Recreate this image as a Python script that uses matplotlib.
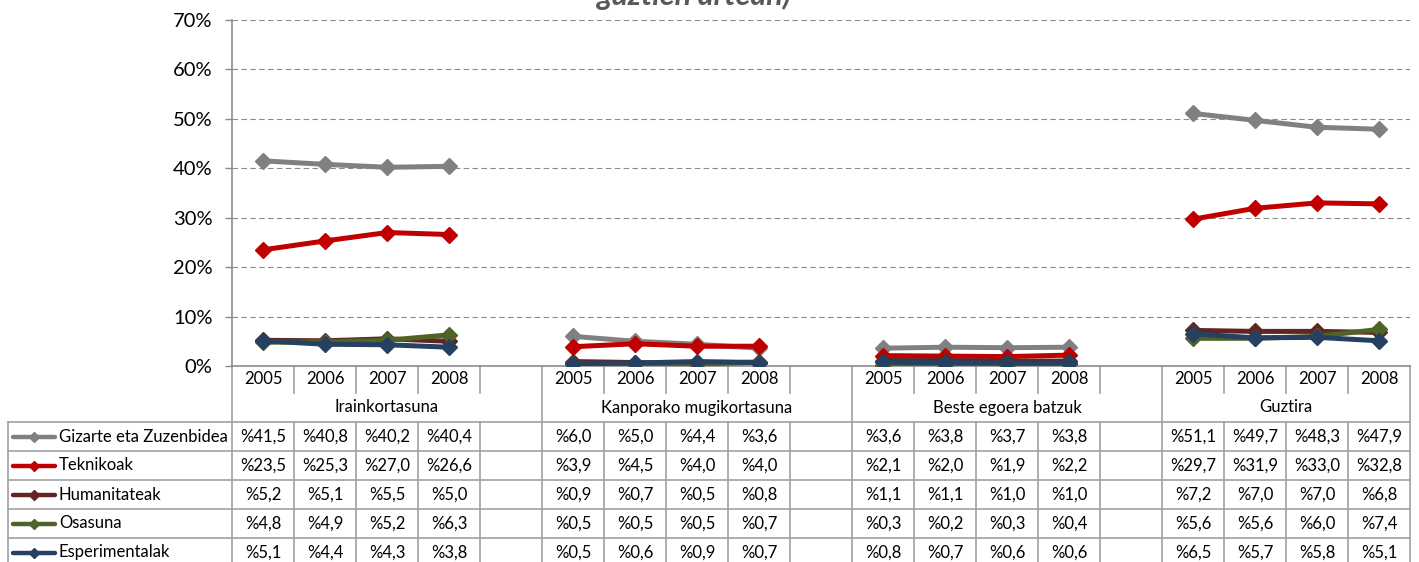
import numpy as np
import matplotlib
matplotlib.use("Agg")
import matplotlib.pyplot as plt
from matplotlib.transforms import blended_transform_factory

plt.rcParams['font.family'] = ['Lato', 'DejaVu Sans']

groups = ['Irainkortasuna', 'Kanporako mugikortasuna', 'Beste egoera batzuk', 'Guztira']
years = ['2005', '2006', '2007', '2008']

series_names = ['Gizarte eta Zuzenbidea', 'Teknikoak', 'Humanitateak', 'Osasuna', 'Esperimentalak']
gizarte = [41.5, 40.8, 40.2, 40.4, 6.0, 5.0, 4.4, 3.6, 3.6, 3.8, 3.7, 3.8, 51.1, 49.7, 48.3, 47.9]
teknikoak = [23.5, 25.3, 27.0, 26.6, 3.9, 4.5, 4.0, 4.0, 2.1, 2.0, 1.9, 2.2, 29.7, 31.9, 33.0, 32.8]
humanitateak = [5.2, 5.1, 5.5, 5.0, 0.9, 0.7, 0.5, 0.8, 1.1, 1.1, 1.0, 1.0, 7.2, 7.0, 7.0, 6.8]
osasuna = [4.8, 4.9, 5.2, 6.3, 0.5, 0.5, 0.5, 0.7, 0.3, 0.2, 0.3, 0.4, 5.6, 5.6, 6.0, 7.4]
esperimentalak = [5.1, 4.4, 4.3, 3.8, 0.5, 0.6, 0.9, 0.7, 0.8, 0.7, 0.6, 0.6, 6.5, 5.7, 5.8, 5.1]
colors = ['#808080', '#C00000', '#632523', '#4F6228', '#254061']

all_series = [gizarte, teknikoak, humanitateak, osasuna, esperimentalak]

# 4 years per group + one empty slot between groups
n_slots = len(groups) * (len(years) + 1) - 1
slot_of = [g * (len(years) + 1) + j for g in range(len(groups)) for j in range(len(years))]

W, H = 1419, 562
fig = plt.figure(figsize=(W / 100, H / 100), dpi=100)

# pixel based layout
px_left, px_right, px_top, px_bottom = 232, 1410, 20, 366
ax = fig.add_axes([px_left / W, 1 - px_bottom / H, (px_right - px_left) / W, (px_bottom - px_top) / H])

# overlay for table drawing (y in pixels, x from chart scale)
tab = fig.add_axes([0, 0, 1, 1], zorder=-1)
tab.set_xlim(0, W)
tab.set_ylim(H, 0)
tab.axis('off')

grid_c = '#8C8C8C'
line_c = '#A0A0A0'
fs = 12

for s, c in zip(all_series, colors):
    y = np.full(n_slots, np.nan)
    for k, v in enumerate(s):
        y[slot_of[k]] = v / 100
    ax.plot(np.arange(n_slots), y, color=c, lw=3.6, marker='D', ms=8.5, solid_joinstyle='round', zorder=3)

ax.set_xlim(-0.5, n_slots - 0.5)
ax.set_ylim(0, 0.7)
ax.set_yticks(np.arange(0, 0.71, 0.1))
ax.set_yticklabels([f'{int(round(t * 100))}%' for t in np.arange(0, 0.71, 0.1)], fontsize=14.5)
ax.set_xticks([])
ax.tick_params(axis='y', length=5, color=grid_c, width=1, pad=9)
ax.yaxis.grid(True, color=grid_c, linestyle=(0, (5, 3)), lw=0.8)
ax.set_axisbelow(True)
for sp in ['top', 'right']:
    ax.spines[sp].set_visible(False)
ax.spines['left'].set_color(grid_c)
ax.spines['bottom'].set_color(grid_c)
ax.spines['left'].set_linewidth(1.2)
ax.spines['bottom'].set_linewidth(1.2)
ax.patch.set_alpha(0)

tr = blended_transform_factory(ax.transData, tab.transData)

# table geometry
row_year = (366, 393)
row_group = (393, 422)
row_h = 29
data_top = 422
rows_y = [data_top + i * row_h for i in range(len(series_names) + 1)]

# horizontal lines
for yy in rows_y:
    tab.plot([8, px_right], [yy, yy], color=line_c, lw=1.2)

# vertical lines
tab.plot([8, 8], [data_top, H], color=line_c, lw=1.2)
group_bounds = [g * (len(years) + 1) - 0.5 for g in range(len(groups))] + [n_slots - 0.5]
for b in group_bounds:
    tab.plot([b, b], [row_year[0], H], color=line_c, lw=1.2, transform=tr)
for s in range(n_slots - 1):
    b = s + 0.5
    if b in group_bounds:
        continue
    tab.plot([b, b], [row_year[0], row_year[1]], color=line_c, lw=1.2, transform=tr)
    tab.plot([b, b], [data_top, H], color=line_c, lw=1.2, transform=tr)

# year and group labels
for k, sl in enumerate(slot_of):
    tab.text(sl, (row_year[0] + row_year[1]) / 2, years[k % len(years)], transform=tr,
             ha='center', va='center', fontsize=fs)
for g, name in enumerate(groups):
    lo = group_bounds[g]
    hi = group_bounds[g + 1]
    tab.text((lo + hi) / 2, (row_group[0] + row_group[1]) / 2, name, transform=tr,
             ha='center', va='center', fontsize=fs)

# data rows
for i, (name, s, c) in enumerate(zip(series_names, all_series, colors)):
    yc = rows_y[i] + row_h / 2
    tab.plot([13, 55], [yc, yc], color=c, lw=3.2, solid_capstyle='round')
    tab.plot([34], [yc], color=c, marker='D', ms=5.5)
    tab.text(59, yc, name, ha='left', va='center', fontsize=fs)
    for k, v in enumerate(s):
        tab.text(slot_of[k], yc, f'%{v:.1f}'.replace('.', ','), transform=tr,
                 ha='center', va='center', fontsize=fs)

# title (only the last line is visible in the frame, as in the source)
fig.text(694 / W, 1 - 5 / H, 'guztien artean)', ha='center', va='baseline',
         fontsize=22, fontweight='bold', fontstyle='italic', color='#595959')

fig.savefig('out.png', dpi=100)
